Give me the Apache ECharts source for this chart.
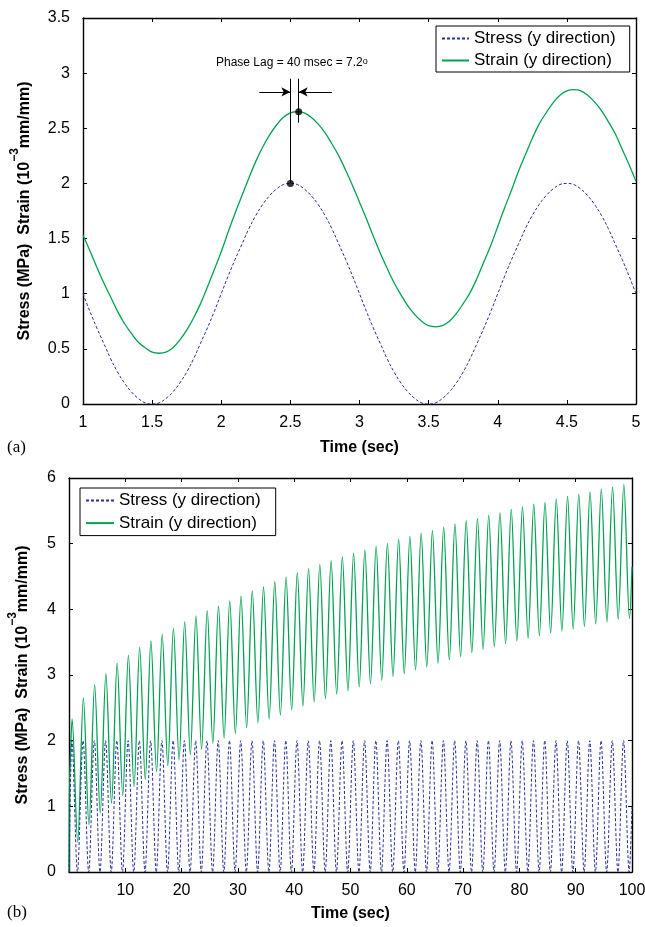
<!DOCTYPE html>
<html><head><meta charset="utf-8">
<script src="https://cdn.jsdelivr.net/npm/echarts@6/dist/echarts.min.js"></script>
<style>html,body{margin:0;padding:0;background:#fff}#c{width:645px;height:927px}</style>
</head><body><div id="c"></div>
<script>
// ---------- Panel (a): 1–5 s, sampled every 0.05 s ----------
const timeA = [1,1.05,1.1,1.15,1.2,1.25,1.3,1.35,1.4,1.45,1.5,1.55,1.6,1.65,1.7,1.75,1.8,1.85,1.9,1.95,2,2.05,2.1,2.15,2.2,2.25,2.3,2.35,2.4,2.45,2.5,2.55,2.6,2.65,2.7,2.75,2.8,2.85,2.9,2.95,3,3.05,3.1,3.15,3.2,3.25,3.3,3.35,3.4,3.45,3.5,3.55,3.6,3.65,3.7,3.75,3.8,3.85,3.9,3.95,4,4.05,4.1,4.15,4.2,4.25,4.3,4.35,4.4,4.45,4.5,4.55,4.6,4.65,4.7,4.75,4.8,4.85,4.9,4.95,5];
const stressA = [1.00,0.84,0.69,0.55,0.41,0.29,0.19,0.11,0.05,0.01,
  0.00,0.01,0.05,0.11,0.19,0.29,0.41,0.55,0.69,0.84,
  1.00,1.16,1.31,1.45,1.59,1.71,1.81,1.89,1.95,1.99,
  2.00,1.99,1.95,1.89,1.81,1.71,1.59,1.45,1.31,1.16,
  1.00,0.84,0.69,0.55,0.41,0.29,0.19,0.11,0.05,0.01,
  0.00,0.01,0.05,0.11,0.19,0.29,0.41,0.55,0.69,0.84,
  1.00,1.16,1.31,1.45,1.59,1.71,1.81,1.89,1.95,1.99,
  2.00,1.99,1.95,1.89,1.81,1.71,1.59,1.45,1.31,1.16,
  1.00];
const strainA = [1.53,1.39,1.24,1.10,0.97,0.84,0.73,0.64,0.56,0.51,0.47,0.46,
  0.47,0.51,0.58,0.67,0.78,0.91,1.06,1.22,1.38,1.56,1.73,1.89,2.05,2.20,2.33,2.44,2.53,2.60,2.64,2.65,
  2.64,2.60,2.54,2.46,2.36,2.25,2.12,1.98,1.83,1.68,1.52,1.37,1.23,1.10,0.99,0.89,0.81,0.75,0.71,0.70,
  0.71,0.75,0.82,0.91,1.01,1.14,1.29,1.44,1.61,1.78,1.94,2.11,2.26,2.41,2.54,2.64,2.73,2.80,2.84,2.85,
  2.84,2.80,2.74,2.66,2.56,2.45,2.31,2.17,2.02];
// phase-lag annotation (data coordinates)
const lagDots = [[2.5, 2.0], [2.56, 2.65]];
const lagLines = [[[2.5, 2.95], [2.5, 2.0]], [[2.56, 2.95], [2.56, 2.55]]];
const lagArrows = [[[2.275, 2.83], [2.5, 2.83]], [[2.80, 2.83], [2.56, 2.83]]];
const lagText = 'Phase Lag = 40 msec = 7.2';

// ---------- Panel (b): 0–100 s (per-cycle extremes) ----------
const stressStartB = [[0, 0]];
const stressPeakT0B = 0.5, stressTroughT0B = 1.5;
const stressPeaksB = [2,2,2,2,2,2,2,2,2,2,2,2,2,2,2,2,2,2,2,2,2,2,2,2,2,2,2,2,2,2,2,2,2,2,2,2,2,2,2,2,2,2,2,2,2,2,2,2,2,2];
const stressTroughsB = [0,0,0,0,0,0,0,0,0,0,0,0,0,0,0,0,0,0,0,0,0,0,0,0,0,0,0,0,0,0,0,0,0,0,0,0,0,0,0,0,0,0,0,0,0,0,0,0,0,0];
const stressEndB = [100, 1.0];
const strainStartB = [[0, 0], [0.05, 1.4]];
const strainPeakT0B = 0.55, strainTroughT0B = 1.55;
const strainPeaksB = [2.33,2.65,2.85,3.02,3.18,3.30,3.42,3.52,3.62,3.71,3.81,3.90,3.98,4.05,4.13,4.20,4.28,4.34,4.42,4.49,4.56,4.62,4.68,4.74,4.80,4.85,4.90,4.96,5.00,5.07,5.11,5.16,5.20,5.25,5.30,5.35,5.38,5.43,5.47,5.52,5.56,5.60,5.63,5.68,5.72,5.75,5.79,5.83,5.86,5.90];
const strainTroughsB = [0.46,0.72,0.90,1.05,1.17,1.30,1.41,1.53,1.62,1.71,1.79,1.87,1.96,2.04,2.11,2.20,2.27,2.33,2.39,2.47,2.53,2.59,2.64,2.71,2.76,2.82,2.87,2.92,2.98,3.02,3.08,3.12,3.18,3.23,3.28,3.34,3.39,3.43,3.48,3.52,3.56,3.60,3.64,3.67,3.70,3.74,3.78,3.81,3.85,3.86];
const strainEndB = [100, 4.65];
const periodB = 2;

const names = ['Stress (y direction)', 'Strain (y direction)'];

// ---------- build ----------
const pairs = (xs, ys) => xs.map((x, i) => [x, ys[i]]);
function cycles(start, pT0, tT0, peaks, troughs, end) {
  const d = start.slice();
  for (let k = 0; k < peaks.length; k++) {
    d.push([pT0 + periodB * k, peaks[k]]);
    d.push([tT0 + periodB * k, troughs[k]]);
  }
  d.push(end);
  return d;
}
const stressB = cycles(stressStartB, stressPeakT0B, stressTroughT0B, stressPeaksB, stressTroughsB, stressEndB);
const strainB = cycles(strainStartB, strainPeakT0B, strainTroughT0B, strainPeaksB, strainTroughsB, strainEndB);

const FONT = '"Liberation Sans", Arial, Helvetica, sans-serif';
const BLUE = '#262f9a', GREEN = '#00a352';
const lineAx = { show: true, onZero: false, lineStyle: { color: '#000', width: 1.4 } };
const tick = { show: true, inside: true, length: 4, lineStyle: { color: '#000', width: 1 } };
const lbl = { fontFamily: FONT, fontSize: 16, color: '#000' };

function xAx(grid, pos, min, max, interval, show, extra) {
  return Object.assign({
    type: 'value', gridIndex: grid, position: pos, min, max, interval,
    axisLine: lineAx, axisTick: tick, splitLine: { show: false },
    axisLabel: Object.assign({ show, margin: 11 }, lbl)
  }, extra || {});
}
function yAx(grid, pos, min, max, interval, show, extra) {
  return Object.assign({
    type: 'value', gridIndex: grid, position: pos, min, max, interval,
    axisLine: lineAx, axisTick: tick, splitLine: { show: false },
    axisLabel: Object.assign({ show, margin: 13 }, lbl)
  }, extra || {});
}
const yName = '{m|Stress (MPa)  Strain (10}{s|\u22123}{m|mm/mm)}';
function yNameStyle(fs) {
  return {
    rich: {
      m: { fontFamily: FONT, fontWeight: 'bold', fontSize: fs, lineHeight: 24, verticalAlign: 'bottom', color: '#000' },
      s: { fontFamily: FONT, fontWeight: 'bold', fontSize: fs - 4, lineHeight: 12, verticalAlign: 'top', color: '#000' }
    }
  };
}
const xNameStyle = { fontFamily: FONT, fontWeight: 'bold', fontSize: 16, color: '#000' };

const legendBase = {
  data: names, orient: 'vertical', itemWidth: 27, itemHeight: 14, itemGap: 5,
  borderColor: '#000', borderWidth: 1, backgroundColor: '#fff', selectedMode: false,
  itemStyle: { opacity: 0 },
  textStyle: { fontFamily: FONT, fontSize: 17, color: '#000' }
};

const lagMarks = lagLines.map(l => [{ coord: l[0] }, { coord: l[1] }])
  .concat(lagArrows.map(a => [{ coord: a[0] }, { coord: a[1], symbol: 'arrow', symbolSize: [7, 9] }]));

const option = {
  animation: false,
  backgroundColor: '#fff',
  grid: [
    { left: 83, top: 18, width: 553, height: 386, containLabel: false, outerBoundsMode: 'none' },
    { left: 69, top: 478, width: 563, height: 394, containLabel: false, outerBoundsMode: 'none' }
  ],
  xAxis: [
    xAx(0, 'bottom', 1, 5, 0.5, true, { name: 'Time (sec)', nameLocation: 'middle', nameGap: 36, nameTextStyle: xNameStyle }),
    xAx(0, 'top', 1, 5, 0.5, false),
    xAx(1, 'bottom', 0, 100, 10, true, { name: 'Time (sec)', nameLocation: 'middle', nameGap: 34, nameTextStyle: xNameStyle }),
    xAx(1, 'top', 0, 100, 10, false)
  ],
  yAxis: [
    yAx(0, 'left', 0, 3.5, 0.5, true, { name: yName, nameLocation: 'middle', nameGap: 50, nameTextStyle: yNameStyle(16) }),
    yAx(0, 'right', 0, 3.5, 0.5, false),
    yAx(1, 'left', 0, 6, 1, true, { name: yName, nameLocation: 'middle', nameGap: 38, nameTextStyle: yNameStyle(16) }),
    yAx(1, 'right', 0, 6, 1, false)
  ],
  legend: [
    Object.assign({}, legendBase, { left: 436, top: 26, padding: [4, 14, 3, 5] }),
    Object.assign({}, legendBase, { left: 80, top: 488, padding: [4, 15, 4, 5], itemWidth: 28, itemGap: 5.6 })
  ],
  series: [
    { name: names[0], type: 'line', xAxisIndex: 0, yAxisIndex: 0, data: pairs(timeA, stressA), symbol: 'none', smooth: 0.4,
      lineStyle: { color: BLUE, width: 1, type: [3, 2] }, itemStyle: { color: BLUE }, silent: true },
    { name: names[1], type: 'line', xAxisIndex: 0, yAxisIndex: 0, data: pairs(timeA, strainA), symbol: 'none', smooth: 0.4,
      lineStyle: { color: GREEN, width: 1.3 }, itemStyle: { color: GREEN }, silent: true },
    { type: 'line', xAxisIndex: 0, yAxisIndex: 0, data: [], silent: true,
      markLine: { silent: true, animation: false, symbol: ['none', 'none'], label: { show: false },
        lineStyle: { color: '#000', width: 1, type: 'solid' }, emphasis: { disabled: true }, data: lagMarks } },
    { type: 'scatter', xAxisIndex: 0, yAxisIndex: 0, data: lagDots, symbolSize: 7, itemStyle: { color: '#000' }, silent: true, z: 5 },
    { name: names[1], type: 'line', xAxisIndex: 2, yAxisIndex: 2, data: strainB, symbol: 'none', smooth: 0.33, smoothMonotone: 'x',
      lineStyle: { color: GREEN, width: 1.3 }, itemStyle: { color: GREEN }, silent: true },
    { name: names[0], type: 'line', xAxisIndex: 2, yAxisIndex: 2, data: stressB, symbol: 'none', smooth: 0.33, smoothMonotone: 'x',
      lineStyle: { color: BLUE, width: 1, type: [3, 2] }, itemStyle: { color: BLUE }, silent: true }
  ],
  graphic: [
    { type: 'text', left: 216, top: 57, style: { text: lagText + '{s|o}', fontFamily: FONT, fontSize: 12, fill: '#000',
      rich: { s: { fontSize: 9, fontFamily: FONT, verticalAlign: 'top', lineHeight: 8 } } } },
    { type: 'text', left: 7, top: 439, style: { text: '(a)', fontFamily: '"Liberation Serif", "Times New Roman", serif', fontSize: 17, fill: '#000' } },
    { type: 'text', left: 7, top: 904, style: { text: '(b)', fontFamily: '"Liberation Serif", "Times New Roman", serif', fontSize: 17, fill: '#000' } }
  ]
};
option.xAxis[2].axisLabel.showMinLabel = false;
const chart = echarts.init(document.getElementById('c'), null, { renderer: 'canvas' });
chart.setOption(option);
</script></body></html>
